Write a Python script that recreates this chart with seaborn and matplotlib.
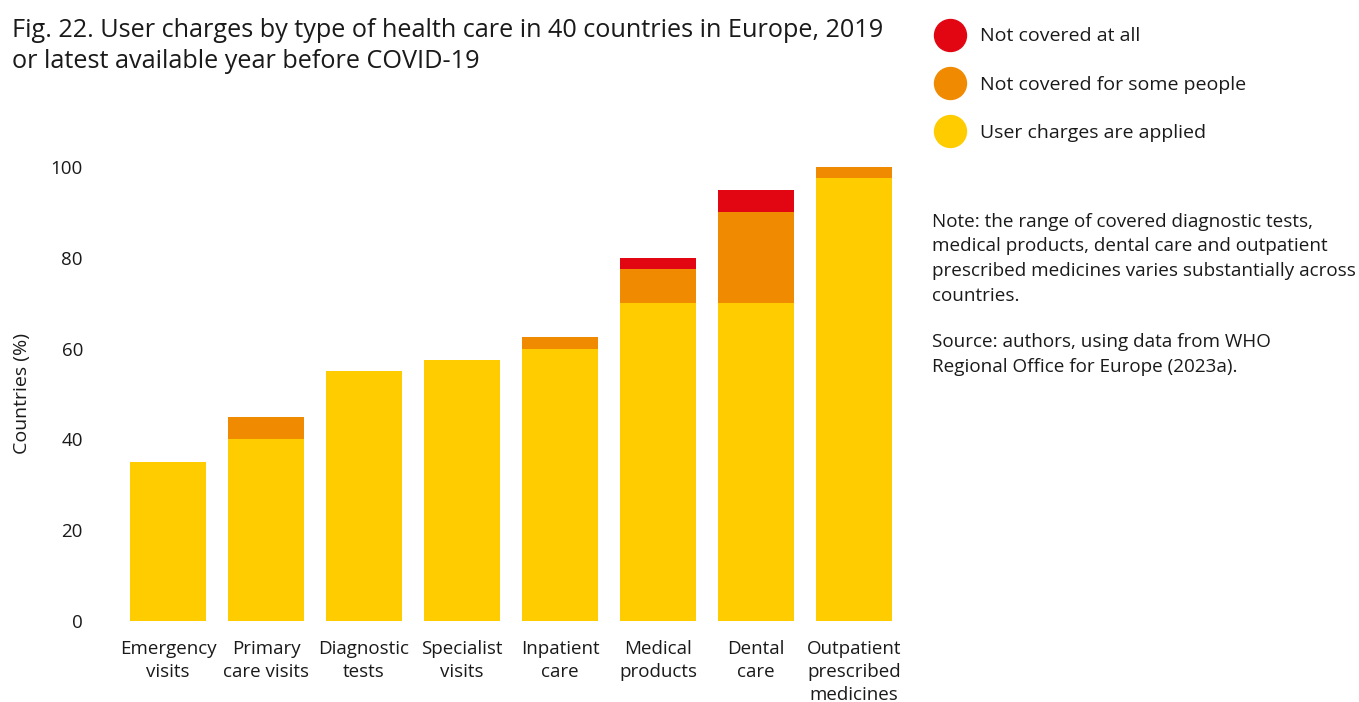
import pandas as pd
import matplotlib.pyplot as plt
import seaborn as sns
from matplotlib.lines import Line2D

categories = ["Emergency\nvisits", "Primary\ncare visits", "Diagnostic\ntests",
              "Specialist\nvisits", "Inpatient\ncare", "Medical\nproducts",
              "Dental\ncare", "Outpatient\nprescribed\nmedicines"]
user_charges = [35, 40, 55, 57.5, 60, 70, 70, 97.5]
not_covered_some = [0, 5, 0, 0, 2.5, 7.5, 20, 2.5]
not_covered_all = [0, 0, 0, 0, 0, 2.5, 5, 0]

series_labels = ["Not covered at all", "Not covered for some people", "User charges are applied"]
colors = {"yellow": "#FFCC00", "orange": "#F08A00", "red": "#E20613"}

df = pd.DataFrame({
    "category": categories,
    "yellow": user_charges,
    "orange": not_covered_some,
    "red": not_covered_all,
})
df["top_orange"] = df["yellow"] + df["orange"]
df["top_red"] = df["top_orange"] + df["red"]

sns.set_style("white")
plt.rcParams["font.family"] = ["Open Sans", "DejaVu Sans"]
plt.rcParams["text.color"] = "#1a1a1a"

fig = plt.figure(figsize=(13.59, 7.02), dpi=100)
ax = fig.add_axes([0.0876, 0.1154, 0.5769, 0.6467])

# stacked bars drawn as cumulative layers
for col, key in [("top_red", "red"), ("top_orange", "orange"), ("yellow", "yellow")]:
    sns.barplot(data=df, x="category", y=col, color=colors[key], width=0.776,
                saturation=1, linewidth=0, edgecolor="none", ax=ax)

ax.set_xlim(-0.5, 7.5)
ax.set_ylim(0, 100)
ax.set_yticks([0, 20, 40, 60, 80, 100])
sns.despine(ax=ax, left=True, bottom=True)
ax.tick_params(axis="y", length=0, pad=26, labelsize=13.5, labelcolor="#1a1a1a")
ax.tick_params(axis="x", length=0, pad=14, labelsize=13.5, labelcolor="#1a1a1a")
for lbl in ax.get_xticklabels():
    lbl.set_linespacing(1.33)
ax.set_xlabel("")
ax.set_ylabel("Countries (%)", fontsize=14, labelpad=14, color="#1a1a1a")

fig.text(0.009, 0.974, "Fig. 22. User charges by type of health care in 40 countries in Europe, 2019\n"
         "or latest available year before COVID-19", fontsize=18.2, va="top", ha="left",
         linespacing=1.28)

handles = [Line2D([], [], marker="o", linestyle="", markersize=23,
                  markerfacecolor=colors[k], markeredgecolor=colors[k])
           for k in ["red", "orange", "yellow"]]
fig.legend(handles, series_labels, loc="upper left", bbox_to_anchor=(0.682, 0.972),
           frameon=False, fontsize=14, labelspacing=1.55, handletextpad=0.75,
           handlelength=1.6, borderaxespad=0)

fig.text(0.686, 0.697, "Note: the range of covered diagnostic tests,\n"
         "medical products, dental care and outpatient\n"
         "prescribed medicines varies substantially across\n"
         "countries.", fontsize=13.6, va="top", ha="left", linespacing=1.48)
fig.text(0.686, 0.525, "Source: authors, using data from WHO\n"
         "Regional Office for Europe (2023a).", fontsize=13.6, va="top", ha="left",
         linespacing=1.48)

fig.savefig("out.png", dpi=100)
